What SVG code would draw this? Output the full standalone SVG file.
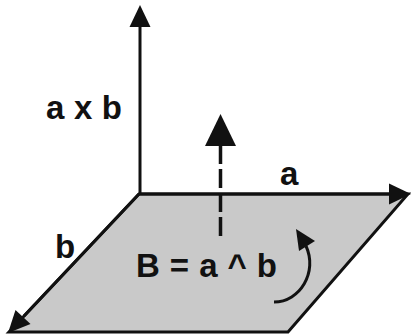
<svg xmlns="http://www.w3.org/2000/svg" width="411" height="336" viewBox="0 0 411 336">
<style>
.ln{stroke:#111;stroke-width:3;fill:none;stroke-linecap:butt}
.ah{fill:#111;stroke:none}
.t{font-family:"Liberation Sans",Arial,sans-serif;font-weight:bold;font-size:33px;fill:#111}
</style>
<rect width="411" height="336" fill="#fff"/>
<g id="plane">
<polygon points="139,194 408,194 288,332 9,332" fill="#c9c9c9" stroke="#111" stroke-width="3" stroke-linejoin="miter"/>
</g>
<g id="connectors">
<line class="ln" x1="140" y1="195" x2="140" y2="25"/>
<polygon class="ah" points="140,5 129.5,27 150.5,27"/>
<line class="ln" x1="139" y1="194" x2="392" y2="194"/>
<polygon class="ah" points="411,194 389,183.5 389,204.5"/>
<line class="ln" x1="139" y1="194" x2="24" y2="316"/>
<polygon class="ah" points="8,333 30.5,324 15.5,310"/>
<line x1="220.5" y1="145" x2="220.5" y2="236" stroke="#111" stroke-width="3.5" stroke-dasharray="19 5"/>
<polygon class="ah" points="220.5,114 205,146 236,146"/>
<path class="ln" d="M274,302 C300,302 318,272 306,246"/>
<polygon class="ah" points="296,229 315,241 299,251"/>
</g>
<g id="labels">
<text class="t" x="46" y="119" textLength="76" lengthAdjust="spacing">a x b</text>
<text class="t" x="280" y="185">a</text>
<text class="t" x="55" y="258">b</text>
<text class="t" x="136" y="277" textLength="141" lengthAdjust="spacing">B = a ^ b</text>
</g>
</svg>
